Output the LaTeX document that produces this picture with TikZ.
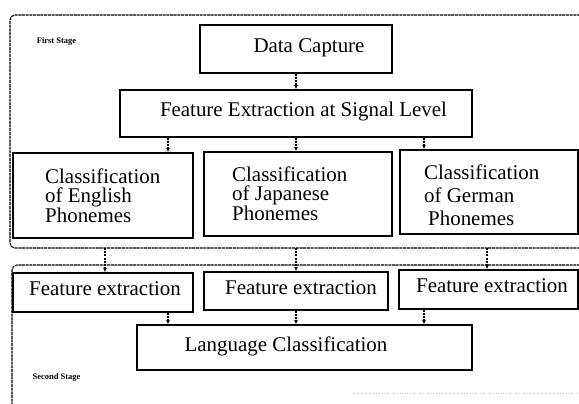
\documentclass[tikz,border=0pt]{standalone}
\usepackage{fontspec}
\setmainfont{Liberation Serif}
\usetikzlibrary{arrows.meta}
\begin{document}
\begin{tikzpicture}[x=1bp,y=-1bp,
  box/.style={draw, line width=1.3bp, inner sep=0pt},
  txt/.style={inner sep=0pt, font=\fontsize{21}{19}\selectfont, text height=13.5bp, text depth=4bp},
  mtxt/.style={inner sep=0pt, align=left, font=\fontsize{21}{19}\selectfont},
  stage/.style={inner sep=0pt, font=\fontsize{8.5}{8}\selectfont\bfseries},
  conn/.style={line width=1.1bp, dash pattern=on 2bp off 1.2bp, -{Latex[length=4.5bp,width=4bp]}},
  frame/.style={line width=1.1bp, dash pattern=on 3bp off 0.7bp, rounded corners=5bp}]
\useasboundingbox (0,0) rectangle (579,403);

% frames
\draw[frame] (580,15) -- (10,15) -- (10,248) -- (580,248);
\draw[frame] (580,265) -- (12,265) -- (12,404);
\draw[gray!45, line width=0.6bp, dotted] (353,393) -- (580,393);

% stage labels
\node[stage] (s1) at (56.5,41) {First Stage};
\node[stage] (s2) at (56.5,377) {Second Stage};

% first stage boxes
\node[box, minimum width=192bp, minimum height=48bp] (dc) at (296,49) {};
\node[txt] (dct) at (309,48) {Data Capture};
\node[box, minimum width=352bp, minimum height=47bp] (fe) at (296,113.5) {};
\node[txt] (fet) at (303.5,112) {Feature Extraction at Signal Level};

\node[box, minimum width=180bp, minimum height=85bp] (en) at (103,195.5) {};
\node[mtxt, anchor=west] (ent) at (45,195.5) {Classification\\of English\\Phonemes};
\node[box, minimum width=188bp, minimum height=84bp] (jp) at (298,194) {};
\node[mtxt, anchor=west] (jpt) at (232,194) {Classification\\of Japanese\\Phonemes};
\node[box, minimum width=178bp, minimum height=84bp] (de) at (489,192) {};
\node[mtxt, anchor=west, font=\fontsize{21}{23}\selectfont] (det) at (424,195) {Classification\\of German\\\hspace*{4bp}Phonemes};

% second stage boxes
\node[box, minimum width=180bp, minimum height=39bp] (fx1) at (103,292.5) {};
\node[txt] (fx1t) at (105,291) {Feature extraction};
\node[box, minimum width=184bp, minimum height=38bp] (fx2) at (296,291) {};
\node[txt] (fx2t) at (301,290) {Feature extraction};
\node[box, minimum width=179bp, minimum height=39bp] (fx3) at (488.5,289.5) {};
\node[txt] (fx3t) at (492,288) {Feature extraction};
\node[box, minimum width=335bp, minimum height=45bp] (lc) at (304.5,347.5) {};
\node[txt] (lct) at (286,347) {Language Classification};

% connector x positions
\coordinate (ca) at (168,0);
\coordinate (cb) at (296,0);
\coordinate (cc) at (424,0);
\coordinate (f1a) at (105,248);
\coordinate (f1b) at (296,248);
\coordinate (f1c) at (487,248);

\draw[conn] (dc) -- (fe);
\draw[conn] (fe.south -| ca) -- (en.north -| ca);
\draw[conn] (fe.south -| cb) -- (jp.north -| cb);
\draw[conn] (fe.south -| cc) -- (de.north -| cc);

\draw[conn] (f1a) -- (fx1.north -| f1a);
\draw[conn] (f1b) -- (fx2.north -| f1b);
\draw[conn] (f1c) -- (fx3.north -| f1c);

\draw[conn] (fx1.south -| ca) -- (lc.north -| ca);
\draw[conn] (fx2.south -| cb) -- (lc.north -| cb);
\draw[conn] (fx3.south -| cc) -- (lc.north -| cc);
\end{tikzpicture}
\end{document}
